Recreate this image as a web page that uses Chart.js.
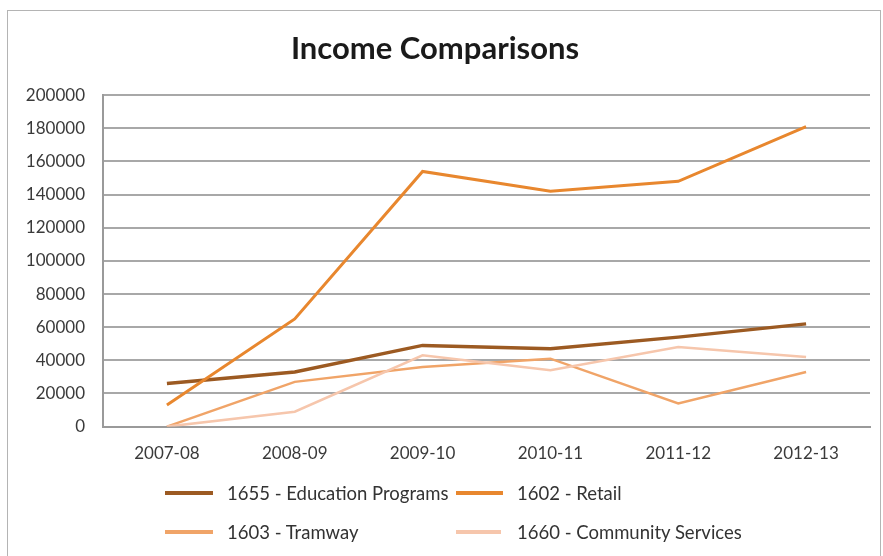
<!DOCTYPE html>
<html>
<head>
<meta charset="utf-8">
<script src="https://cdn.jsdelivr.net/npm/chart.js@4.4.1/dist/chart.umd.min.js"></script>
<style>
  body { margin: 0; background: #fff; font-family: Lato, "Open Sans", sans-serif; }
  #frame { position: absolute; left: 7px; top: 10px; width: 874px; height: 560px; border: 1px solid #b4b4b4; box-sizing: border-box; }
  #wrap { position: absolute; left: 0; top: 0; width: 883px; height: 481px; }
  #legend { position: absolute; left: 0; top: 472px; width: 883px; height: 84px; color: #333; font-size: 18.5px; }
  .item { position: absolute; height: 22px; line-height: 22px; white-space: nowrap; }
  .swatch { position: absolute; top: 9px; height: 4px; }
  .txt { position: absolute; top: 0; }
</style>
</head>
<body>
<div id="frame"></div>
<div id="wrap"><canvas id="myChart" width="883" height="481"></canvas></div>
<div id="legend"></div>
<script>
var years = ['2007-08', '2008-09', '2009-10', '2010-11', '2011-12', '2012-13'];
var seriesNames = ['1655 - Education Programs', '1602 - Retail', '1603 - Tramway', '1660 - Community Services'];
var education = [26000, 33000, 49000, 47000, 54000, 62000];
var retail = [13000, 65000, 154000, 142000, 148000, 181000];
var tramway = [0, 27000, 36000, 41000, 14000, 33000];
var community = [0, 9000, 43000, 34000, 48000, 42000];
var yTicks = [0, 20000, 40000, 60000, 80000, 100000, 120000, 140000, 160000, 180000, 200000];

var colors = ['#9c5a22', '#e8872e', '#f0a468', '#f6c6ac'];
var widths = [3.5, 3, 2.5, 2.5];
var seriesData = [education, retail, tramway, community];

var datasets = [];
for (var i = 0; i < seriesNames.length; i++) {
  datasets.push({
    label: seriesNames[i],
    data: seriesData[i],
    borderColor: colors[i],
    backgroundColor: colors[i],
    borderWidth: widths[i],
    pointRadius: 0,
    tension: 0,
    fill: false
  });
}
// draw the light lines first, like the original
datasets.reverse();

var ctx = document.getElementById('myChart');
var chart = new Chart(ctx, {
  type: 'line',
  data: { labels: years, datasets: datasets },
  options: {
    responsive: false,
    animation: false,
    layout: { padding: { left: 0, right: 13, top: 0, bottom: 0 } },
    plugins: {
      legend: { display: false },
      tooltip: { enabled: false },
      title: {
        display: true,
        text: 'Income Comparisons',
        color: '#1a1a1a',
        font: { family: 'Lato', size: 31, weight: 'bold' },
        padding: { top: 30, bottom: 28 }
      }
    },
    scales: {
      x: {
        offset: true,
        grid: { display: false, drawTicks: false },
        border: { display: true, color: '#9a9a9a', width: 2 },
        ticks: { color: '#3a3a3a', font: { family: 'Lato', size: 17 }, padding: 17, maxRotation: 0 }
      },
      y: {
        min: 0,
        max: 200000,
        afterFit: function(scale) { scale.width = 103; },
        afterBuildTicks: function(scale) {
          scale.ticks = yTicks.map(function(v) { return { value: v }; });
        },
        grid: { color: '#a8a8a8', lineWidth: 2, drawTicks: false },
        border: { display: true, color: '#9a9a9a', width: 2 },
        ticks: {
          color: '#3a3a3a',
          font: { family: 'Lato', size: 17 },
          padding: 18,
          callback: function(value) { return String(value); }
        }
      }
    }
  }
});

// legend in two fixed columns, built from the chart's datasets
var legend = document.getElementById('legend');
var slots = [
  { sw: 165, sww: 48, tx: 227, top: 10 },
  { sw: 456, sww: 47, tx: 517, top: 10 },
  { sw: 165, sww: 48, tx: 227, top: 49 },
  { sw: 456, sww: 45, tx: 517, top: 49 }
];
for (var k = 0; k < seriesNames.length; k++) {
  var s = slots[k];
  var item = document.createElement('div');
  item.className = 'item';
  item.style.top = s.top + 'px';
  item.style.left = '0px';
  var sw = document.createElement('div');
  sw.className = 'swatch';
  sw.style.left = s.sw + 'px';
  sw.style.width = s.sww + 'px';
  sw.style.background = colors[k];
  var tx = document.createElement('div');
  tx.className = 'txt';
  tx.style.left = s.tx + 'px';
  tx.textContent = seriesNames[k];
  item.appendChild(sw);
  item.appendChild(tx);
  legend.appendChild(item);
}
</script>
</body>
</html>
